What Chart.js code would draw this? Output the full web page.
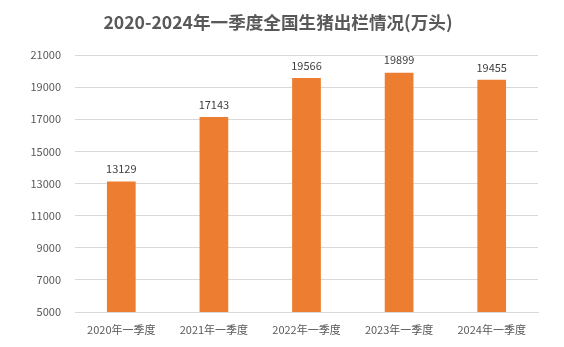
<!DOCTYPE html>
<html>
<head>
<meta charset="utf-8">
<script src="https://cdn.jsdelivr.net/npm/chart.js@4"></script>
<style>
  html, body { margin: 0; padding: 0; background: #fff; }
  #wrap { width: 564px; height: 347px; }
</style>
</head>
<body>
<div id="wrap"><canvas id="chart" width="564" height="347"></canvas></div>
<script>
// 2020-2024 first-quarter hog slaughter (10k head)
const titleText = "2020-2024年一季度全国生猪出栏情况(万头)";
const categories = ["2020年一季度", "2021年一季度", "2022年一季度", "2023年一季度", "2024年一季度"];
const values = [13129, 17143, 19566, 19899, 19455];
const yMin = 5000;
const yMax = 21000;
const yStep = 2000;

const FONT = "'Noto Sans CJK SC', 'Noto Sans', sans-serif";

// title + value labels drawn by hand
const labelPlugin = {
    id: "labels",
    afterDatasetsDraw(chart) {
        const ctx = chart.ctx;
        ctx.save();
        ctx.font = "11px " + FONT;
        ctx.fillStyle = "#404040";
        ctx.textAlign = "center";
        ctx.textBaseline = "bottom";
        chart.getDatasetMeta(0).data.forEach((bar, i) => {
            ctx.fillText(String(values[i]), bar.x, bar.y - 7);
        });

        ctx.font = "bold 17.6px " + FONT;
        ctx.fillStyle = "#595959";
        ctx.textBaseline = "middle";
        ctx.fillText(titleText, 278, 22);
        ctx.restore();
    }
};

new Chart(document.getElementById("chart"), {
    type: "bar",
    data: {
        labels: categories,
        datasets: [{
            data: values,
            backgroundColor: "#ED7D31",
            borderWidth: 0,
            categoryPercentage: 1,
            barPercentage: 0.31
        }]
    },
    options: {
        responsive: false,
        animation: false,
        layout: { padding: { top: 55, right: 26, left: 0, bottom: 0 } },
        plugins: {
            legend: { display: false },
            title: { display: false },
            tooltip: { enabled: false }
        },
        scales: {
            x: {
                grid: { display: false, drawTicks: false },
                border: { display: true, color: "#d9d9d9" },
                ticks: { color: "#595959", font: { size: 11, family: FONT }, padding: 11, maxRotation: 0 },
                afterFit(scale) { scale.height = 35; }
            },
            y: {
                min: yMin,
                max: yMax,
                grid: { color: "#d9d9d9", drawTicks: false },
                border: { display: false },
                ticks: {
                    stepSize: yStep,
                    color: "#595959",
                    font: { size: 11, family: FONT },
                    padding: 14,
                    callback: v => String(v)
                },
                afterFit(scale) { scale.width = 75; }
            }
        }
    },
    plugins: [labelPlugin]
});
</script>
</body>
</html>
